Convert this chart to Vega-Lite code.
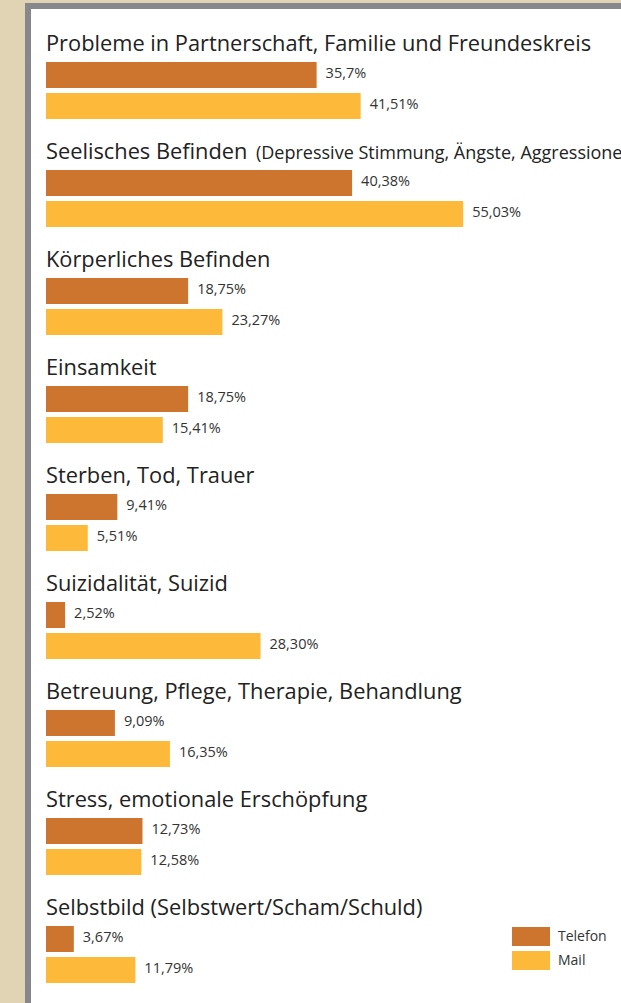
{
  "$schema": "https://vega.github.io/schema/vega-lite/v6.json",
  "width": 593,
  "height": 997,
  "autosize": {"type": "none"},
  "padding": {"left": 28, "top": 6, "right": 0, "bottom": 0},
  "background": "#e0d4b4",
  "config": {
    "view": {"fill": "#ffffff", "stroke": "#88888c", "strokeWidth": 6, "strokeDash": [593, 1590, 997], "strokeCap": "square"},
    "text": {"font": "Open Sans"}
  },
  "data": {"values": [
    {"kat": "Probleme in Partnerschaft, Familie und Freundeskreis", "sub": null, "serie": "Telefon", "wert": 35.7, "label": "35,7%"},
    {"kat": "Probleme in Partnerschaft, Familie und Freundeskreis", "sub": null, "serie": "Mail", "wert": 41.51, "label": "41,51%"},
    {"kat": "Seelisches Befinden", "sub": "(Depressive Stimmung, Ängste, Aggressionen)", "serie": "Telefon", "wert": 40.38, "label": "40,38%"},
    {"kat": "Seelisches Befinden", "sub": "(Depressive Stimmung, Ängste, Aggressionen)", "serie": "Mail", "wert": 55.03, "label": "55,03%"},
    {"kat": "Körperliches Befinden", "sub": null, "serie": "Telefon", "wert": 18.75, "label": "18,75%"},
    {"kat": "Körperliches Befinden", "sub": null, "serie": "Mail", "wert": 23.27, "label": "23,27%"},
    {"kat": "Einsamkeit", "sub": null, "serie": "Telefon", "wert": 18.75, "label": "18,75%"},
    {"kat": "Einsamkeit", "sub": null, "serie": "Mail", "wert": 15.41, "label": "15,41%"},
    {"kat": "Sterben, Tod, Trauer", "sub": null, "serie": "Telefon", "wert": 9.41, "label": "9,41%"},
    {"kat": "Sterben, Tod, Trauer", "sub": null, "serie": "Mail", "wert": 5.51, "label": "5,51%"},
    {"kat": "Suizidalität, Suizid", "sub": null, "serie": "Telefon", "wert": 2.52, "label": "2,52%"},
    {"kat": "Suizidalität, Suizid", "sub": null, "serie": "Mail", "wert": 28.30, "label": "28,30%"},
    {"kat": "Betreuung, Pflege, Therapie, Behandlung", "sub": null, "serie": "Telefon", "wert": 9.09, "label": "9,09%"},
    {"kat": "Betreuung, Pflege, Therapie, Behandlung", "sub": null, "serie": "Mail", "wert": 16.35, "label": "16,35%"},
    {"kat": "Stress, emotionale Erschöpfung", "sub": null, "serie": "Telefon", "wert": 12.73, "label": "12,73%"},
    {"kat": "Stress, emotionale Erschöpfung", "sub": null, "serie": "Mail", "wert": 12.58, "label": "12,58%"},
    {"kat": "Selbstbild (Selbstwert/Scham/Schuld)", "sub": null, "serie": "Telefon", "wert": 3.67, "label": "3,67%"},
    {"kat": "Selbstbild (Selbstwert/Scham/Schuld)", "sub": null, "serie": "Mail", "wert": 11.79, "label": "11,79%"}
  ]},
  "encoding": {
    "y": {"field": "kat", "type": "nominal", "sort": null, "axis": null,
      "scale": {"paddingInner": 0.47222, "paddingOuter": 0.35185, "align": 0.7368, "round": false}}
  },
  "layer": [
    {
      "mark": {"type": "bar"},
      "encoding": {
        "x": {"field": "wert", "type": "quantitative", "axis": null,
          "scale": {"domain": [-2.375, 75.855], "nice": false, "zero": false}},
        "x2": {"datum": 0},
        "yOffset": {"field": "serie", "type": "nominal", "sort": ["Telefon", "Mail"],
          "scale": {"paddingInner": 0.1613, "paddingOuter": 0}},
        "color": {"field": "serie", "type": "nominal", "sort": ["Telefon", "Mail"],
          "scale": {"domain": ["Telefon", "Mail"], "range": ["#cd742e", "#fdb93a"]},
          "legend": {"title": null, "orient": "none", "legendX": 484, "legendY": 921,
            "symbolType": "M-1,-0.5H1V0.5H-1Z", "symbolSize": 1444, "symbolStrokeWidth": 0,
            "clipHeight": 19, "rowPadding": 5, "labelOffset": 8, "labelFont": "Open Sans",
            "labelFontSize": 14, "labelColor": "#333333", "padding": 0, "symbolOpacity": 1}}
      }
    },
    {
      "mark": {"type": "text", "align": "left", "baseline": "middle", "dx": 9, "dy": -1, "fontSize": 14.5, "color": "#333333"},
      "encoding": {
        "x": {"field": "wert", "type": "quantitative"},
        "yOffset": {"field": "serie", "type": "nominal", "sort": ["Telefon", "Mail"]},
        "text": {"field": "label"}
      }
    },
    {
      "transform": [{"filter": "datum.serie == 'Telefon'"}],
      "mark": {"type": "text", "align": "left", "baseline": "alphabetic", "dy": -11, "fontSize": 21.8, "color": "#222222"},
      "encoding": {
        "x": {"datum": 0},
        "y": {"field": "kat", "type": "nominal", "sort": null, "bandPosition": 0},
        "text": {"field": "kat"}
      }
    },
    {
      "transform": [{"filter": "datum.serie == 'Telefon' && datum.sub != null"}],
      "mark": {"type": "text", "align": "left", "baseline": "alphabetic", "dy": -11, "dx": 210, "fontSize": 18, "color": "#222222"},
      "encoding": {
        "x": {"datum": 0},
        "y": {"field": "kat", "type": "nominal", "sort": null, "bandPosition": 0},
        "text": {"field": "sub"}
      }
    }
  ]
}
